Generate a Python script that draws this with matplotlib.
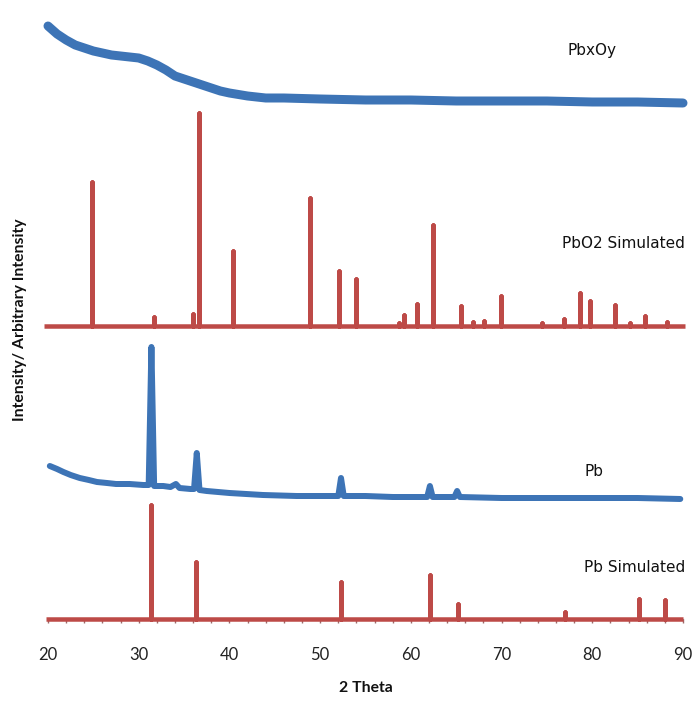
import matplotlib
matplotlib.use("Agg")
import matplotlib.pyplot as plt
import numpy as np
from matplotlib.ticker import MultipleLocator

# ---------------- data ----------------
# PbxOy measured pattern: 2theta, intensity (arbitrary)
pbxoy_theta = [20.0, 20.5, 21.0, 22.0, 23.0, 24.0, 25.0, 26.0, 27.0, 28.0, 29.0, 30.0,
               31.0, 32.0, 33.0, 34.0, 35.0, 36.0, 37.0, 38.0, 39.0, 40.0, 42.0, 44.0,
               46.0, 50.0, 55.0, 60.0, 65.0, 70.0, 75.0, 80.0, 85.0, 90.0]
pbxoy_int = [77, 73, 69, 63, 58, 55, 52, 50, 48, 47, 46, 45,
             42, 38, 33, 27, 24, 21, 18, 15, 12, 10, 7, 5,
             5, 4, 3, 3, 2, 2, 2, 1, 1, 0]

# PbO2 simulated: baseline + stick peaks (2theta, height)
pbo2_peak_theta = [24.9, 31.7, 35.95, 36.6, 40.4, 48.9, 52.1, 54.0, 58.7, 59.2, 60.65,
                   62.4, 65.5, 66.9, 68.1, 69.9, 74.5, 76.9, 78.6, 79.8, 82.5, 84.2,
                   85.8, 88.2]
pbo2_peak_int = [144, 9, 12, 213, 75, 128, 55, 47, 3, 11, 22,
                 101, 20, 4, 5, 30, 3, 7, 33, 25, 21, 3,
                 10, 4]

# Pb measured pattern
pb_theta = [20.2, 21.0, 21.7, 22.5, 23.5, 24.5, 25.4, 26.5, 27.5, 29.0, 30.5, 31.1,
            31.4, 31.7, 32.7, 33.5, 34.1, 34.5, 35.7, 36.1, 36.4, 36.7, 37.5, 40.0,
            43.7, 47.4, 52.0, 52.3, 52.6, 55.0, 58.0, 61.8, 62.1, 62.4, 64.8, 65.1,
            65.4, 70.0, 75.0, 80.0, 85.0, 89.7]
pb_int = [33, 30, 27, 24, 21, 19, 17, 16, 15, 15, 14, 14,
          152, 13, 13, 12, 15, 11, 10, 10, 46, 9, 8, 6,
          4, 3, 3, 21, 3, 3, 2, 2, 13, 2, 2, 8,
          2, 1, 1, 1, 1, 0]

# Pb simulated: stick peaks
pbsim_peak_theta = [31.35, 36.3, 52.25, 62.15, 65.2, 76.95, 85.2, 88.0]
pbsim_peak_int = [114, 57, 37, 44, 15, 7, 20, 19]

labels = ["PbxOy", "PbO2 Simulated", "Pb", "Pb Simulated"]
x_ticks = [20, 30, 40, 50, 60, 70, 80, 90]

# ---------------- layout / style ----------------
W, H = 693, 702
BLUE = "#3D74B6"
RED = "#BD4A47"
offsets = {"PbxOy": 516, "PbO2": 293, "Pb": 120, "PbSim": 0}

def stick_pattern(thetas, heights, start=20.0, end=90.0):
    xs, ys = [start], [0.0]
    for t, h in sorted(zip(thetas, heights)):
        xs += [t, t, t]
        ys += [0.0, h, 0.0]
    xs.append(end)
    ys.append(0.0)
    return np.array(xs), np.array(ys)

fig = plt.figure(figsize=(W / 100, H / 100), dpi=100)
ax = fig.add_axes([48 / W, (H - 619) / H, 635 / W, 609 / H])

px = 72 / 100  # points per pixel

# measured patterns
ax.plot(pbxoy_theta, np.array(pbxoy_int) + offsets["PbxOy"], color=BLUE,
        lw=9 * px, solid_joinstyle="round", solid_capstyle="round", clip_on=False)
ax.plot(pb_theta, np.array(pb_int) + offsets["Pb"], color=BLUE,
        lw=6 * px, solid_joinstyle="round", solid_capstyle="round", clip_on=False)

# simulated patterns
x1, y1 = stick_pattern(pbo2_peak_theta, pbo2_peak_int, 19.6, 90.2)
ax.plot(x1, y1 + offsets["PbO2"], color=RED, lw=4.5 * px,
        solid_joinstyle="round", solid_capstyle="butt", clip_on=False)
x2, y2 = stick_pattern(pbsim_peak_theta, pbsim_peak_int, 19.8, 90.0)
ax.plot(x2, y2 + offsets["PbSim"], color=RED, lw=4.5 * px,
        solid_joinstyle="round", solid_capstyle="butt", clip_on=False, zorder=3)

ax.set_xlim(20, 90)
ax.set_ylim(0, 609)
ax.set_yticks([])
for s in ["left", "right", "top"]:
    ax.spines[s].set_visible(False)
ax.spines["bottom"].set_color("#8a8a8a")
ax.xaxis.set_major_locator(MultipleLocator(10))
ax.xaxis.set_minor_locator(MultipleLocator(2))
ax.set_xticks(x_ticks)
ax.tick_params(axis="x", which="both", direction="out", length=4 * px, width=1,
               color="#9a6a6a")
ax.tick_params(axis="x", which="major", pad=17, labelsize=12, labelcolor="#222222")
for lab in ax.get_xticklabels():
    lab.set_fontfamily("Lato")

ax.set_xlabel("2 Theta", fontsize=11.3, fontweight="bold", family="Lato",
              labelpad=13, color="#111111")
fig.text(20 / W, 1 - 320 / H, "Intensity/ Arbitrary Intensity", rotation=90,
         ha="center", va="center", fontsize=11.3, fontweight="bold", family="Lato",
         color="#111111")

tkw = dict(fontsize=11, family="DejaVu Sans", color="#111111", va="center")
fig.text(592 / W, 1 - 50 / H, labels[0], ha="center", **tkw)
fig.text(685 / W, 1 - 243 / H, labels[1], ha="right", **tkw)
fig.text(594 / W, 1 - 472 / H, labels[2], ha="center", **tkw)
fig.text(685 / W, 1 - 567 / H, labels[3], ha="right", **tkw)

fig.savefig("out.png", dpi=100)
